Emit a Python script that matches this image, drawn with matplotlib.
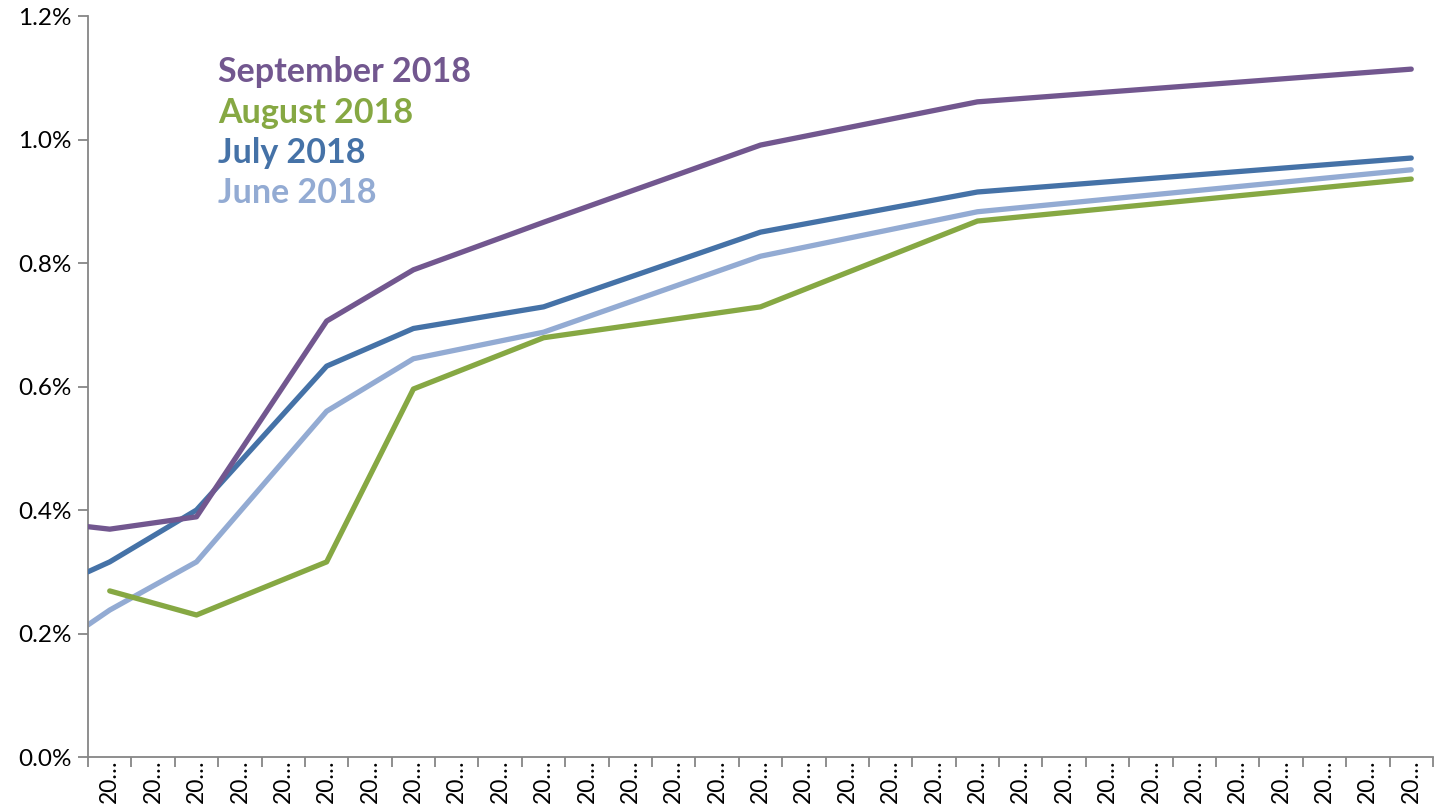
import matplotlib
matplotlib.use("Agg")
import matplotlib.pyplot as plt
import numpy as np
from matplotlib.ticker import FuncFormatter, FixedLocator

# category axis: one slot per year label, all shown truncated as "20…"
n_cat = 31
cat_labels = ["20\u2026"] * n_cat

# x positions (category index) of the curve points; -0.5 is the left edge
x_pos = [-0.5, 0, 2, 5, 7, 10, 15, 20, 30]

sep18 = [0.373, 0.369, 0.389, 0.706, 0.789, 0.866, 0.991, 1.061, 1.114]
aug18 = [np.nan, 0.269, 0.230, 0.316, 0.596, 0.679, 0.729, 0.868, 0.936]
jul18 = [0.300, 0.316, 0.400, 0.633, 0.694, 0.729, 0.850, 0.915, 0.970]
jun18 = [0.214, 0.238, 0.316, 0.560, 0.645, 0.688, 0.811, 0.883, 0.951]

names = ["September 2018", "August 2018", "July 2018", "June 2018"]
colors = ["#72578F", "#86A843", "#4572A7", "#93ABD3"]

plt.rcParams['font.family'] = ['Lato', 'DejaVu Sans']

fig = plt.figure(figsize=(14.48, 8.05), dpi=100)
ax = fig.add_axes([0.0608, 0.0596, 0.9288, 0.9205])

# draw back to front like the original
ax.plot(x_pos, jun18, color=colors[3], lw=3.8, solid_capstyle='round', zorder=2)
ax.plot(x_pos, aug18, color=colors[1], lw=3.8, solid_capstyle='round', zorder=3)
ax.plot(x_pos, jul18, color=colors[2], lw=3.8, solid_capstyle='round', zorder=4)
ax.plot(x_pos, sep18, color=colors[0], lw=3.8, solid_capstyle='round', zorder=5)

ax.set_xlim(-0.5, n_cat - 0.5)
ax.set_ylim(0, 1.2)
ax.set_yticks(np.arange(0, 1.21, 0.2))
ax.yaxis.set_major_formatter(FuncFormatter(lambda v, p: "%.1f%%" % v))

ax.xaxis.set_major_locator(FixedLocator(np.arange(-0.5, n_cat, 1.0)))
ax.xaxis.set_minor_locator(FixedLocator(np.arange(0, n_cat, 1.0)))
ax.set_xticklabels([])
ax.set_xticklabels(cat_labels, minor=True, rotation=90, fontsize=16.5)
ax.tick_params(axis='x', which='major', length=7, width=1.3, color='#868686')
ax.tick_params(axis='x', which='minor', length=0, pad=2)
ax.tick_params(axis='y', length=7, width=1.3, color='#868686', labelsize=17.5, pad=5)

for s in ['top', 'right']:
    ax.spines[s].set_visible(False)
for s in ['left', 'bottom']:
    ax.spines[s].set_color('#868686')
    ax.spines[s].set_linewidth(1.3)

# coloured text legend
for i, (nm, c) in enumerate(zip(names, colors)):
    ax.text(0.097, 0.924 - i * 0.0545, nm, transform=ax.transAxes, color=c,
            fontsize=24.5, fontweight='bold', va='center', ha='left')

fig.savefig("out.png", dpi=100)
